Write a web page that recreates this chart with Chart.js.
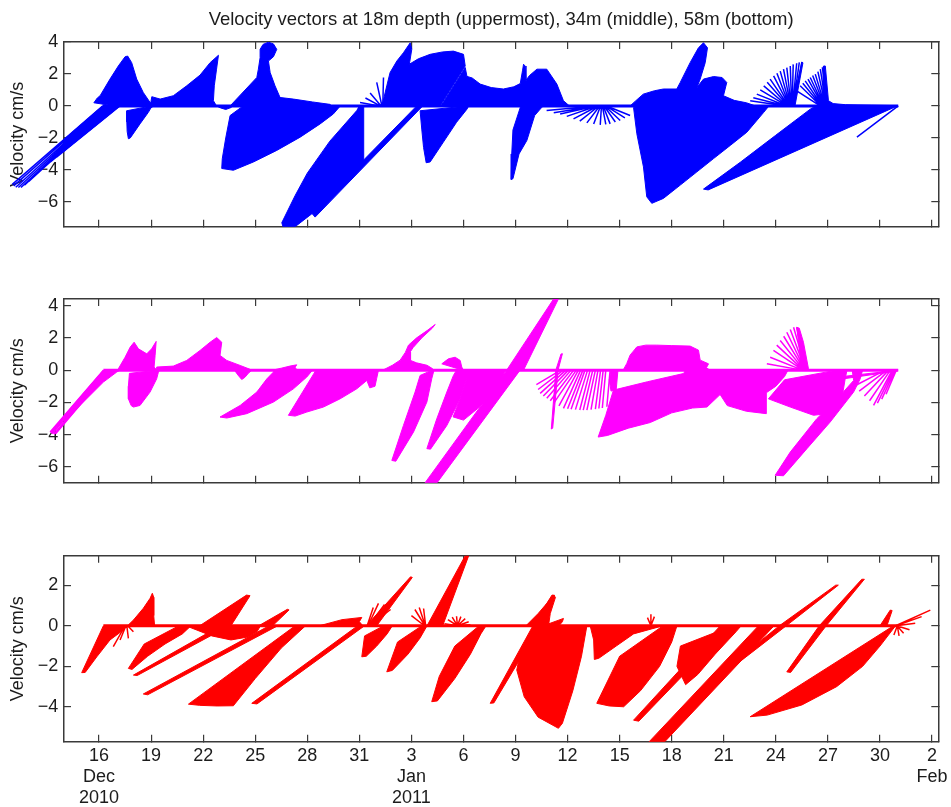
<!DOCTYPE html>
<html>
<head>
<meta charset="utf-8">
<script src="https://cdn.jsdelivr.net/npm/chart.js@4.4.1/dist/chart.umd.min.js"></script>
<style>
  html, body { margin: 0; padding: 0; background: #fff; }
  #wrap { position: relative; width: 951px; height: 807px; overflow: hidden; }
  .panel { position: absolute; left: 0; width: 951px; }
</style>
</head>
<body>
<div id="wrap">
  <div class="panel" style="top:0;height:245px"><canvas id="upper" width="951" height="245"></canvas></div>
  <div class="panel" style="top:245px;height:255px"><canvas id="middle" width="951" height="255"></canvas></div>
  <div class="panel" style="top:500px;height:307px"><canvas id="bottom" width="951" height="307"></canvas></div>
</div>
<script>
// time axis: day number counted from 1 Dec 2010 (Jan 3 = 34, Feb 2 = 64)
const dayRange = [13.98, 64.36];
const tickDays = [16, 19, 22, 25, 28, 31, 34, 37, 40, 43, 46, 49, 52, 55, 58, 61, 64];
const tickText = ['16', '19', '22', '25', '28', '31', '3', '6', '9', '12', '15', '18', '21', '24', '27', '30', '2'];
const monthDays = [16, 34, 64];
const monthNames = ['Dec', 'Jan', 'Feb'];
const yearNames = ['2010', '2011', ''];

const titleText = 'Velocity vectors at 18m depth (uppermost), 34m (middle), 58m (bottom)';
const yTitle = 'Velocity cm/s';

const upperRange = [-7.55, 4.0];
const middleRange = [-6.98, 4.41];
const bottomRange = [-5.71, 3.45];
const upperTicks = [-6, -4, -2, 0, 2, 4];
const middleTicks = [-6, -4, -2, 0, 2, 4];
const bottomTicks = [-4, -2, 0, 2];

// first and last stick base of each record
const upperSpan = [16.2, 62.05];
const middleSpan = [16.25, 62.05];
const bottomSpan = [16.25, 62.0];

// dense stick fans: outline of the sticks, [day, cm/s]; first and last point are stick bases
const upperFans = [
  [[16.2,0],[11.0,-4.9],[11.2,-5.1],[11.5,-5.1],[12.6,-4.04],[13.75,-3.03],[14.9,-2.02],[16.06,-1.01],[16.75,-0.4],[17.2,0]],
  [[16.9,0],[15.7,0.2],[15.9,0.5],[16.06,0.64],[16.63,1.68],[17.11,2.5],[17.5,3.08],[17.65,3.12],[17.88,2.71],[18.17,1.68],[18.55,0.84],[18.94,0.22],[18.95,0]],
  [[19.0,0],[17.6,-0.3],[17.6,-1.0],[17.62,-1.6],[17.69,-2.05],[17.8,-2.0],[18.36,-1.12],[18.84,-0.4],[19.0,-0.1],[19.05,0]],
  [[18.95,0],[19.04,0.58],[19.52,0.43],[20.28,0.64],[21.05,1.26],[21.82,1.93],[22.4,2.71],[22.88,3.17],[22.77,2.3],[22.64,1.26],[22.59,0.33],[22.77,0]],
  [[22.77,0],[23.0,-0.12],[23.3,-0.22],[23.6,-0.1],[23.7,0]],
  [[23.55,0],[25.09,1.78],[25.18,2.3],[25.28,3.02],[25.28,3.54],[25.45,3.85],[25.76,3.99],[26.05,3.88],[26.24,3.54],[26.05,3.08],[25.76,2.81],[25.86,2.09],[26.14,1.26],[26.43,0.53],[27.2,0.43],[28.3,0.25],[29.3,0.1],[29.4,0]],
  [[24.3,0],[23.55,-0.6],[23.3,-2.0],[23.1,-3.3],[23.07,-3.91],[23.74,-4.02],[24.9,-3.5],[26.24,-2.78],[27.59,-1.95],[28.74,-1.12],[29.5,-0.5],[29.9,0]],
  [[31.0,0],[30.85,-0.29],[29.3,-2.2],[28.0,-4.2],[27.3,-5.6],[26.53,-7.3],[26.6,-7.55],[27.3,-7.55],[28.25,-6.75],[29.5,-5.45],[30.5,-4.4],[31.25,-3.5],[31.25,0]],
  [[34.3,0],[28.25,-6.7],[28.45,-6.95],[34.65,0]],
  [[32.3,0],[32.58,1.26],[32.77,2.09],[33.16,2.81],[33.54,3.33],[33.93,3.95],[34.02,3.54],[33.88,2.61],[34.4,2.95],[35.08,3.23],[35.8,3.38],[36.42,3.43],[37.0,3.23],[37.1,2.5],[35.65,0]],
  [[37.2,0],[34.5,-0.3],[34.6,-1.5],[34.7,-2.6],[34.85,-3.55],[35.08,-3.5],[35.84,-2.26],[36.6,-1.02],[37.2,-0.2],[37.3,0]],
  [[35.7,0],[37.1,2.4],[37.2,1.85],[37.5,1.75],[37.96,1.37],[38.6,1.15],[39.3,1.06],[39.9,1.2],[40.27,1.4],[40.4,2.2],[40.46,2.61],[40.55,2.5],[40.6,1.6],[40.8,1.9],[41.23,2.3],[41.8,2.3],[42.38,1.37],[42.76,0.33],[43.0,0.1],[43.1,0]],
  [[40.3,0],[39.85,-1.5],[39.78,-3.0],[39.75,-4.6],[39.85,-4.55],[40.2,-3.0],[40.65,-2.16],[41.1,-0.6],[41.5,-0.1],[41.6,0]],
  [[46.6,0],[46.9,0.3],[47.36,0.74],[48.0,0.95],[48.52,1.06],[49.29,1.06],[49.49,1.47],[50.06,2.71],[50.54,3.64],[50.83,3.95],[51.06,3.64],[50.93,2.71],[50.64,1.68],[50.45,1.16],[50.83,1.68],[51.41,1.84],[51.9,1.78],[52.17,1.47],[51.98,0.64],[52.6,0.35],[53.3,0.2],[53.7,0.05],[53.8,0]],
  [[47.0,0],[46.8,-0.1],[46.99,-1.74],[47.37,-3.81],[47.56,-5.68],[47.85,-6.09],[48.52,-5.78],[49.49,-4.95],[50.45,-4.12],[51.41,-3.29],[52.37,-2.47],[53.33,-1.64],[54.3,-0.4],[54.6,0]],
  [[55.95,0],[56.5,2.75],[56.56,2.7],[56.1,0]],
  [[57.7,0],[57.75,2.5],[57.85,2.5],[58.03,0.33],[58.3,0.15],[59.0,0.08],[60.5,0.05],[62.0,0.02],[62.05,0]],
  [[57.3,0],[56.98,-0.2],[54.97,-1.85],[52.95,-3.52],[50.83,-5.2],[51.1,-5.25],[62.0,0]]
];
// single sticks: [base day, tip day, tip cm/s]
const upperRays = [
  [16.2,11.0,-4.9],[16.28,11.08,-5.0],[16.35,11.2,-5.08],[16.42,11.35,-5.1],[16.5,11.5,-5.1],[16.6,11.7,-4.95],
  [16.7,11.95,-4.72],[16.8,12.25,-4.4],[16.9,12.55,-4.1],[17.0,12.85,-3.8],[17.1,13.2,-3.5],[17.2,13.55,-3.2],
  [32.15,31.04,0.22],[32.2,31.35,0.5],[32.25,31.62,0.81],[32.3,32.0,1.47],[32.35,32.39,1.78],
  [44.55,41.79,-0.29],[44.6,42.2,-0.42],[44.65,42.57,-0.5],[44.7,42.95,-0.65],[44.75,43.34,-0.81],[44.8,43.7,-0.95],[44.85,44.11,-1.06],[44.9,44.5,-1.13],[44.95,44.88,-1.18],[45.0,45.2,-1.15],[45.05,45.45,-1.12],[45.1,45.75,-1.0],[45.15,46.03,-0.91],[45.2,46.3,-0.75],[45.25,46.6,-0.6],
  [55.55,53.52,0.33],[55.58,53.7,0.52],[55.61,53.9,0.74],[55.64,54.1,1.0],[55.67,54.3,1.26],[55.7,54.5,1.48],[55.73,54.67,1.68],[55.76,54.87,1.88],[55.79,55.06,2.05],[55.82,55.25,2.18],[55.85,55.44,2.3],[55.88,55.63,2.4],[55.91,55.83,2.5],[55.94,56.0,2.6],[55.97,56.2,2.67],[56.0,56.35,2.72],[56.03,56.5,2.75],
  [57.55,56.2,0.95],[57.59,56.4,1.26],[57.63,56.55,1.42],[57.67,56.69,1.57],[57.71,56.85,1.68],[57.75,56.98,1.78],[57.79,57.12,1.9],[57.83,57.27,1.99],[57.87,57.42,2.15],[57.9,57.56,2.3],[57.93,57.68,2.42],[57.95,57.75,2.5],
  [62.05,59.67,-1.95]
];

const middleFans = [
  [[16.25,0],[13.18,-3.84],[13.4,-3.98],[14.9,-2.19],[16.25,-0.74],[17.02,-0.12],[17.2,0]],
  [[17.1,0],[17.11,0.08],[17.5,0.8],[17.79,1.42],[18.02,1.73],[18.27,1.32],[18.75,1.01],[19.03,1.32],[19.29,1.78],[19.23,0.91],[19.17,0.19],[19.32,0]],
  [[19.4,0],[17.75,-0.2],[17.69,-1.0],[17.69,-1.78],[17.85,-2.2],[17.98,-2.29],[18.36,-2.19],[18.94,-1.36],[19.32,-0.54],[19.42,-0.12],[19.5,0]],
  [[19.3,0],[19.32,0.19],[20.28,0.25],[21.05,0.6],[21.82,1.22],[22.4,1.73],[22.78,2.02],[23.07,1.73],[22.97,0.91],[23.36,0.6],[24.13,0.29],[24.7,0.05],[24.75,0]],
  [[23.8,0],[24.0,-0.3],[24.22,-0.58],[24.4,-0.45],[24.6,-0.2],[24.8,0]],
  [[26.1,0],[26.05,-0.12],[25.67,-0.54],[25.09,-1.36],[24.13,-2.19],[22.97,-2.91],[23.36,-2.97],[24.51,-2.7],[26.05,-1.98],[27.2,-1.16],[27.97,-0.43],[28.3,0]],
  [[26.0,0],[26.5,0.12],[27.0,0.25],[27.39,0.33],[27.3,0.18],[27.4,0]],
  [[28.5,0],[26.91,-2.8],[27.3,-2.85],[27.97,-2.6],[28.93,-2.29],[29.89,-1.78],[30.85,-1.16],[31.43,-0.64],[31.6,-1.1],[31.9,-1.0],[32.0,-0.5],[32.1,0]],
  [[32.35,0],[32.9,0.3],[33.35,0.62],[33.65,1.1],[33.83,1.55],[34.3,2.0],[34.9,2.45],[35.37,2.83],[35.2,2.6],[34.6,2.0],[34.1,1.4],[33.93,1.13],[33.95,0.6],[34.3,0.45],[34.9,0.3],[35.2,0.1],[35.3,0]],
  [[35.2,0],[34.5,-0.33],[34.21,-1.36],[33.54,-3.43],[32.87,-5.6],[33.1,-5.65],[34.12,-3.84],[34.89,-1.98],[35.17,-0.54],[35.3,0]],
  [[36.6,0],[36.42,-0.33],[36.04,-1.36],[35.46,-3.02],[34.89,-4.87],[35.1,-4.9],[36.04,-3.43],[36.81,-1.78],[37.19,-0.54],[37.3,0]],
  [[36.95,0],[35.75,0.39],[36.13,0.7],[36.52,0.8],[36.81,0.6],[36.9,0.19],[37.0,0]],
  [[37.2,0],[37.19,-0.54],[36.81,-1.78],[36.4,-2.9],[37.0,-3.1],[37.8,-2.4],[38.6,-1.5],[39.2,-0.6],[39.4,0]],
  [[39.49,0],[34.79,-6.98],[35.48,-6.98],[40.26,0]],
  [[39.49,0],[42.19,4.41],[42.47,4.41],[40.46,0]],
  [[42.32,0],[42.06,-3.65],[42.14,-3.6],[42.45,0],[42.7,1.02],[42.62,1.0],[42.32,0]],
  [[45.5,0],[45.4,-0.6],[45.5,-1.3],[45.8,-1.2],[45.9,0]],
  [[49.8,0],[49.68,-0.21],[47.6,-0.72],[45.64,-1.24],[45.2,-2.8],[44.76,-4.15],[45.3,-4.05],[46.5,-3.6],[47.76,-3.25],[49.0,-2.65],[50.2,-2.35],[51.03,-2.29],[51.8,-1.5],[52.2,-0.5],[52.4,0]],
  [[46.2,0],[46.41,0.41],[46.6,0.93],[46.99,1.44],[47.5,1.55],[48.14,1.55],[49.0,1.52],[50.06,1.49],[50.54,1.24],[50.64,0.62],[51.12,0.39],[51.0,0.15],[51.2,0]],
  [[56.5,0],[56.2,2.66],[56.35,2.6],[56.59,1.73],[56.88,0.08],[56.95,0]],
  [[52.4,0],[51.6,-1.2],[52.2,-2.2],[53.3,-2.55],[54.45,-2.7],[54.45,-1.4],[55.0,-1.0],[55.5,-0.4],[55.7,0]],
  [[58.5,0],[55.5,-0.6],[54.57,-1.78],[55.83,-2.29],[57.17,-2.8],[57.94,-2.7],[58.8,-1.8],[59.0,-0.5],[59.1,0]],
  [[59.4,0],[59.48,-0.64],[58.71,-1.57],[57.36,-3.01],[55.83,-5.08],[54.96,-6.52],[55.44,-6.55],[56.79,-4.87],[58.13,-3.22],[59.48,-1.36],[59.86,-0.54],[60.0,0]],
  [[62.05,0],[58.0,-0.5],[58.2,-0.65],[62.0,-0.05]]
];
const middleRays = [
  [16.25,13.18,-3.84],[16.3,13.22,-3.9],[16.4,13.3,-3.95],[16.5,13.4,-3.97],[16.6,13.5,-3.95],
  [42.6,41.2,-0.9],[42.75,41.3,-1.2],[42.9,41.42,-1.44],[43.05,41.6,-1.6],[43.2,41.8,-1.75],[43.35,42.0,-1.9],[43.5,42.2,-2.05],
  [43.62,42.5,-2.22],[43.75,42.76,-2.37],[43.88,43.0,-2.4],[44.0,43.2,-2.43],[44.15,43.45,-2.45],[44.3,43.7,-2.47],
  [44.45,43.9,-2.48],[44.6,44.11,-2.48],[44.75,44.35,-2.45],[44.9,44.6,-2.42],[45.05,44.8,-2.38],[45.2,45.0,-2.35],[45.45,45.26,-2.27],
  [56.5,54.48,0.39],[56.53,54.67,0.8],[56.56,54.86,1.22],[56.59,55.05,1.55],[56.62,55.25,1.84],[56.65,55.45,2.1],[56.68,55.63,2.35],[56.71,55.83,2.52],[56.74,56.02,2.66],[56.77,56.2,2.66],
  [61.3,59.5,-1.0],[61.4,59.8,-1.3],[61.5,60.1,-1.6],[61.6,60.4,-1.9],[61.7,60.63,-2.19],[61.78,60.85,-2.05],[61.86,61.1,-1.8],[61.94,61.35,-1.5]
];

const bottomFans = [
  [[16.25,0],[15.0,-2.31],[15.2,-2.3],[15.87,-1.53],[16.63,-0.7],[17.4,-0.21],[17.6,0]],
  [[19.1,0],[17.7,0.05],[17.98,0.28],[18.55,0.86],[18.94,1.35],[19.07,1.6],[19.15,1.4],[19.15,0.5],[19.2,0]],
  [[20.6,0],[18.6,-0.9],[17.69,-2.1],[17.9,-2.15],[18.8,-1.5],[19.8,-0.9],[20.8,-0.4],[21.3,0]],
  [[23.0,0],[17.98,-2.43],[18.2,-2.45],[23.5,0]],
  [[21.0,0],[22.5,-0.5],[23.6,-0.7],[24.6,-0.55],[25.1,-0.3],[25.3,0]],
  [[25.8,0],[18.55,-3.36],[18.8,-3.4],[26.3,0]],
  [[27.3,0],[21.15,-3.86],[21.8,-3.92],[22.8,-3.95],[23.74,-3.94],[25.0,-2.6],[26.5,-1.1],[27.9,0]],
  [[30.9,0],[24.8,-3.82],[25.1,-3.85],[31.3,0]],
  [[21.8,0],[24.5,1.51],[24.7,1.48],[23.6,0]],
  [[25.2,0],[26.85,0.81],[26.95,0.78],[26.0,0]],
  [[28.7,0],[30.0,0.3],[31.14,0.41],[31.0,0.2],[31.2,0]],
  [[32.4,0],[31.3,-0.5],[31.14,-1.53],[31.4,-1.5],[32.0,-1.0],[32.6,-0.4],[32.9,0]],
  [[31.4,0],[33.95,2.41],[34.05,2.38],[32.0,0]],
  [[34.6,0],[33.2,-0.8],[32.58,-2.27],[32.9,-2.2],[33.8,-1.4],[34.5,-0.6],[34.9,0]],
  [[34.9,0],[37.1,3.45],[37.3,3.45],[35.8,0]],
  [[37.9,0],[36.5,-1.0],[35.6,-2.5],[35.17,-3.74],[35.5,-3.7],[36.5,-2.6],[37.4,-1.4],[38.0,-0.4],[38.3,0]],
  [[41.0,0],[38.54,-3.82],[38.75,-3.8],[41.4,0],[42.25,1.5],[42.1,1.51],[41.0,0]],
  [[40.6,0],[41.3,0.6],[41.8,1.1],[42.19,1.51],[42.3,1.4],[42.0,0.6],[41.9,0]],
  [[41.4,0],[40.3,-1.2],[40.07,-2.18],[40.5,-3.5],[41.3,-4.5],[42.47,-5.05],[42.7,-4.8],[43.3,-3.2],[43.8,-1.5],[44.11,0]],
  [[41.6,0],[42.76,0.36],[42.7,0.2],[42.5,0]],
  [[44.3,0],[44.5,-0.7],[44.54,-1.66],[44.8,-1.6],[45.8,-1.0],[46.8,-0.4],[48.5,0]],
  [[48.5,0],[46.0,-1.5],[44.68,-3.82],[45.4,-3.95],[46.23,-3.99],[47.2,-3.2],[48.3,-2.0],[49.0,-0.8],[49.3,0]],
  [[51.8,0],[46.8,-4.65],[47.1,-4.7],[52.4,0]],
  [[54.0,0],[47.7,-5.71],[48.6,-5.71],[54.9,0]],
  [[52.5,0],[49.5,-1.0],[49.3,-2.0],[49.8,-2.9],[50.5,-2.4],[51.5,-1.4],[52.7,-0.3],[53.0,0]],
  [[55.2,0],[52.27,-2.02],[52.5,-2.05],[55.6,0],[58.6,2.0],[58.45,2.0],[55.2,0]],
  [[57.5,0],[55.63,-2.27],[55.85,-2.3],[57.9,0],[60.1,2.29],[59.95,2.29],[57.5,0]],
  [[61.78,0],[53.52,-4.48],[54.5,-4.4],[56.5,-3.9],[58.5,-3.0],[60.0,-2.0],[61.0,-1.0],[61.9,0]],
  [[61.0,0],[61.59,0.77],[61.7,0.75],[61.4,0]]
];
const bottomRays = [
  [17.5,16.82,-1.03],[17.55,17.21,-0.7],[17.6,17.69,-0.62],[17.65,17.98,-0.3],
  [31.45,31.8,0.9],[31.5,32.1,1.1],[31.55,32.45,1.05],[31.6,32.8,0.8],
  [34.75,34.0,0.5],[34.78,34.2,0.8],[34.8,34.45,0.9],[34.82,34.7,0.85],
  [36.65,35.9,0.1],[36.65,36.1,0.3],[36.65,36.35,0.42],[36.65,36.6,0.47],[36.65,36.85,0.45],[36.65,37.1,0.35],[36.65,37.3,0.2],[36.65,37.4,0.05],
  [47.8,47.6,0.4],[47.8,47.8,0.57],[47.8,48.0,0.45],
  [61.9,63.9,0.77],[61.92,63.4,0.45],[61.94,63.03,0.12],[61.96,62.7,-0.2],[61.98,62.36,-0.37],[62.0,62.1,-0.5],[62.0,61.8,-0.45]
];

const FONT = "'Liberation Sans', Arial, Helvetica, sans-serif";
const INK = '#1c1c1c';
const FRAME = '#3a3a3a';

function fanPoints(fans) {
  const pts = [];
  fans.forEach(f => {
    f.forEach(p => pts.push({x: p[0], y: p[1]}));
    pts.push({x: null, y: null});
  });
  return pts;
}

function rayPoints(rays) {
  const pts = [];
  rays.forEach(r => {
    pts.push({x: r[0], y: 0}, {x: r[1], y: r[2]}, {x: null, y: null});
  });
  return pts;
}

function dayLabel(v) {
  const i = tickDays.indexOf(v);
  if (i < 0) return '';
  const m = monthDays.indexOf(v);
  if (m < 0) return tickText[i];
  return [tickText[i], monthNames[m], yearNames[m]].filter(s => s);
}

function minusLabel(v) {
  return v < 0 ? '\u2212' + (-v) : String(v);
}

const gridOpts = {drawOnChartArea: false, drawTicks: true, tickLength: -7, color: FRAME, lineWidth: 1.2};
const borderOpts = {display: true, color: FRAME, width: 1.5};

function xScale(pos, h, showLabels, title) {
  return {
    type: 'linear', position: pos, min: dayRange[0], max: dayRange[1],
    afterBuildTicks: s => { s.ticks = tickDays.map(v => ({value: v})); },
    afterFit: s => { s.height = h; s.paddingLeft = 0; s.paddingRight = 0; },
    grid: gridOpts, border: borderOpts,
    ticks: {display: showLabels, autoSkip: false, maxRotation: 0, padding: 11, color: INK,
            font: {family: FONT, size: 18, lineHeight: 1.172}, callback: v => dayLabel(v)},
    title: title ? {display: true, text: title, color: INK, font: {family: FONT, size: 18.5, lineHeight: 1.2},
                    padding: {top: 9, bottom: 0}} : {display: false}
  };
}

function yScale(pos, range, ticks) {
  const left = pos === 'left';
  return {
    type: 'linear', position: pos, min: range[0], max: range[1],
    afterBuildTicks: s => { s.ticks = ticks.map(v => ({value: v})); },
    afterFit: s => { s.width = left ? 64 : 0; s.paddingTop = 0; s.paddingBottom = 0; },
    grid: gridOpts, border: borderOpts,
    ticks: {display: left, padding: 12.7, color: INK, font: {family: FONT, size: 18}, callback: v => minusLabel(v)},
    title: left ? {display: true, text: yTitle, color: INK, font: {family: FONT, size: 18, lineHeight: 1.2},
                   padding: {top: 7.5, bottom: 0}} : {display: false}
  };
}

function drawPanel(id, o) {
  new Chart(document.getElementById(id), {
    type: 'line',
    data: {
      datasets: [
        {data: fanPoints(o.fans), borderColor: o.color, backgroundColor: o.color, borderWidth: 1,
         fill: 'shape', pointRadius: 0, spanGaps: false, tension: 0},
        {data: rayPoints(o.rays), borderColor: o.color, borderWidth: 1.5, fill: false,
         pointRadius: 0, spanGaps: false, tension: 0, clip: false},
        {data: [{x: o.span[0], y: 0}, {x: o.span[1], y: 0}], borderColor: o.color, borderWidth: 3,
         fill: false, pointRadius: 0}
      ]
    },
    options: {
      responsive: false, animation: false, events: [],
      layout: {padding: {left: 0, right: 12.7, top: 0, bottom: 0}},
      plugins: {legend: {display: false}, tooltip: {enabled: false}, title: {display: false}},
      scales: {
        x: xScale('bottom', o.bottomH, o.labels, null),
        x2: xScale('top', o.topH, false, o.title),
        y: yScale('left', o.range, o.ticks),
        y2: yScale('right', o.range, o.ticks)
      }
    }
  });
}

drawPanel('upper', {fans: upperFans, rays: upperRays, span: upperSpan, color: '#0000ff',
  range: upperRange, ticks: upperTicks, topH: 42, bottomH: 18.3, labels: false, title: titleText});
drawPanel('middle', {fans: middleFans, rays: middleRays, span: middleSpan, color: '#ff00ff',
  range: middleRange, ticks: middleTicks, topH: 54, bottomH: 17.3, labels: false, title: null});
drawPanel('bottom', {fans: bottomFans, rays: bottomRays, span: bottomSpan, color: '#ff0000',
  range: bottomRange, ticks: bottomTicks, topH: 55.7, bottomH: 65.3, labels: true, title: null});
</script>
</body>
</html>
